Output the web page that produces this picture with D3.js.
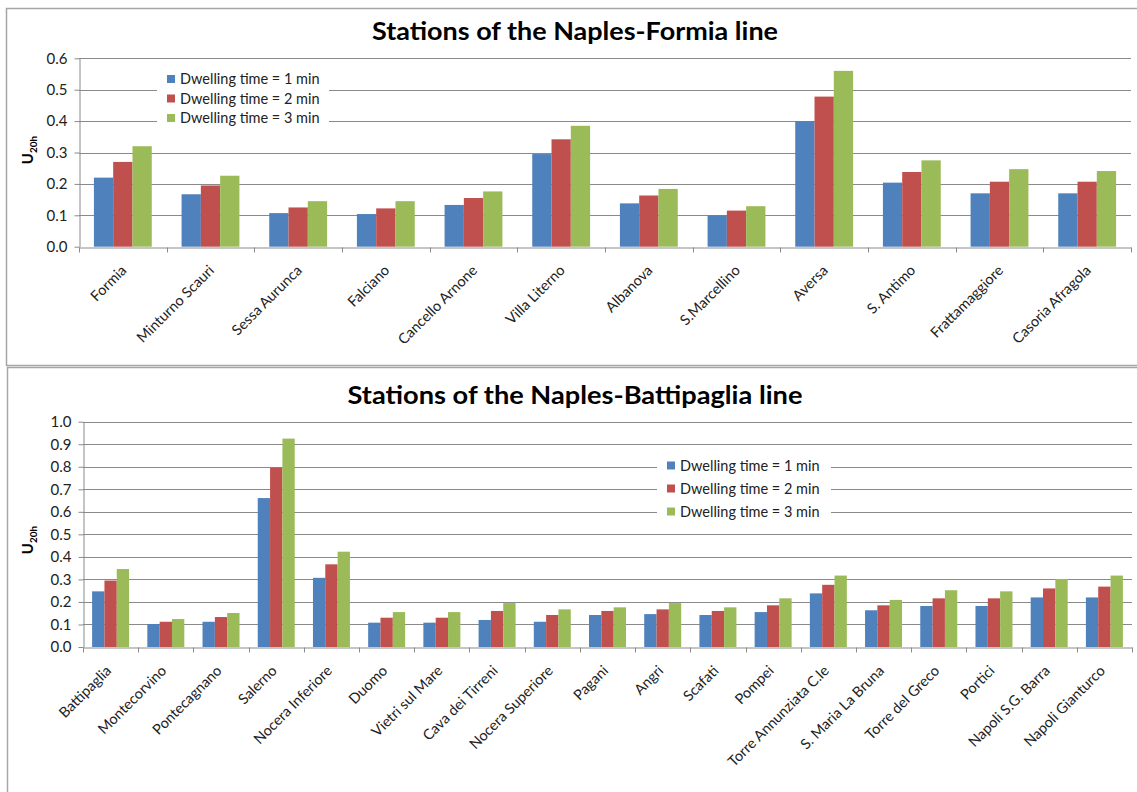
<!DOCTYPE html>
<html>
<head>
<meta charset="utf-8">
<script src="https://cdn.jsdelivr.net/npm/d3@7"></script>
<style>
  html, body { margin: 0; padding: 0; background: #fff; }
  svg { display: block; font-family: Lato, "Open Sans", "Noto Sans", sans-serif; }
</style>
</head>
<body>
<svg id="chart" width="1137" height="792"></svg>
<script>
// ---------- DATA ----------
const seriesNames = ["Dwelling time = 1 min", "Dwelling time = 2 min", "Dwelling time = 3 min"];
const seriesColors = ["#4F81BD", "#C0504D", "#9BBB59"];

const formiaStations = ["Formia", "Minturno Scauri", "Sessa Aurunca", "Falciano", "Cancello Arnone",
  "Villa Literno", "Albanova", "S.Marcellino", "Aversa", "S. Antimo", "Frattamaggiore", "Casoria Afragola"];
const formiaDwell1 = [0.220, 0.167, 0.107, 0.104, 0.133, 0.295, 0.138, 0.100, 0.400, 0.204, 0.170, 0.170];
const formiaDwell2 = [0.270, 0.195, 0.125, 0.122, 0.155, 0.342, 0.163, 0.115, 0.478, 0.238, 0.207, 0.207];
const formiaDwell3 = [0.320, 0.226, 0.145, 0.145, 0.176, 0.385, 0.184, 0.129, 0.560, 0.275, 0.247, 0.241];
const formiaTicks = [0.0, 0.1, 0.2, 0.3, 0.4, 0.5, 0.6];

const battStations = ["Battipaglia", "Montecorvino", "Pontecagnano", "Salerno", "Nocera Inferiore", "Duomo",
  "Vietri sul Mare", "Cava dei Tirreni", "Nocera Superiore", "Pagani", "Angri", "Scafati", "Pompei",
  "Torre Annunziata C.le", "S. Maria La Bruna", "Torre del Greco", "Portici", "Napoli S.G. Barra", "Napoli Gianturco"];
const battDwell1 = [0.247, 0.102, 0.112, 0.661, 0.307, 0.108, 0.108, 0.120, 0.112, 0.142, 0.146, 0.142, 0.155, 0.238, 0.163, 0.182, 0.182, 0.220, 0.220];
const battDwell2 = [0.295, 0.112, 0.133, 0.796, 0.367, 0.130, 0.130, 0.160, 0.142, 0.160, 0.167, 0.160, 0.185, 0.276, 0.185, 0.216, 0.216, 0.260, 0.268];
const battDwell3 = [0.346, 0.124, 0.151, 0.925, 0.423, 0.155, 0.155, 0.195, 0.167, 0.176, 0.195, 0.176, 0.216, 0.317, 0.209, 0.252, 0.247, 0.302, 0.317];
const battTicks = [0.0, 0.1, 0.2, 0.3, 0.4, 0.5, 0.6, 0.7, 0.8, 0.9, 1.0];

// ---------- DRAW ----------
const svg = d3.select("#chart");
const GRID = "#8a8a8a";

function panel(cfg) {
  // panel frame
  svg.append("rect")
    .attr("x", cfg.frame[0] + 0.5).attr("y", cfg.frame[1] + 0.5)
    .attr("width", cfg.frame[2]).attr("height", cfg.frame[3])
    .attr("fill", "#fff").attr("stroke", "#a6a6a6").attr("stroke-width", 1.5);

  const x = d3.scaleBand().domain(cfg.cats).range([cfg.left, cfg.right])
    .paddingInner(cfg.pad).paddingOuter(cfg.pad / 2);
  const xs = d3.scaleBand().domain(d3.range(seriesNames.length)).range([0, x.bandwidth()]);
  const y = d3.scaleLinear().domain(cfg.domain).range([cfg.bottom, cfg.top]);

  const g = svg.append("g");

  // gridlines
  g.append("g").selectAll("line").data(cfg.ticks.filter(t => t > 0)).join("line")
    .attr("x1", cfg.left).attr("x2", cfg.right)
    .attr("y1", d => Math.round(y(d)) + 0.5).attr("y2", d => Math.round(y(d)) + 0.5)
    .attr("stroke", GRID).attr("stroke-width", 1);

  // bars
  const series = cfg.values;
  const groups = g.append("g").selectAll("g").data(cfg.cats).join("g")
    .attr("transform", d => `translate(${x(d)},0)`);
  groups.selectAll("rect").data((d, i) => series.map((s, k) => ({ k, v: s[i] }))).join("rect")
    .attr("x", d => xs(d.k))
    .attr("width", xs.bandwidth())
    .attr("y", d => y(d.v))
    .attr("height", d => y(0) - y(d.v))
    .attr("fill", d => seriesColors[d.k]);

  // y axis
  const yAxis = d3.axisLeft(y).tickValues(cfg.ticks).tickFormat(d3.format(".1f"))
    .tickSizeInner(5).tickSizeOuter(0).tickPadding(7);
  const ya = g.append("g").attr("transform", `translate(${cfg.left + 0.5},0)`).call(yAxis);
  ya.select(".domain").attr("stroke", GRID);
  ya.selectAll(".tick line").attr("stroke", GRID);
  ya.selectAll(".tick text").attr("font-size", 15).attr("fill", "#222")
    .attr("font-family", "Lato, sans-serif");

  // x axis
  const xAxis = d3.axisBottom(x).tickSize(0).tickFormat("");
  const xa = g.append("g").attr("transform", `translate(0,${Math.round(cfg.bottom) + 0.5})`).call(xAxis);
  xa.select(".domain").attr("stroke", GRID);
  // category separator ticks
  xa.append("g").selectAll("line").data(d3.range(cfg.cats.length + 1)).join("line")
    .attr("x1", i => Math.round(cfg.left + i * x.step()) + 0.5)
    .attr("x2", i => Math.round(cfg.left + i * x.step()) + 0.5)
    .attr("y1", 0).attr("y2", 5).attr("stroke", GRID);
  // rotated labels
  g.append("g").selectAll("text").data(cfg.cats).join("text")
    .attr("transform", d => `translate(${x(d) + x.bandwidth() / 2 + cfg.lblDx},${cfg.bottom + cfg.lblDy}) rotate(-45)`)
    .attr("text-anchor", "end")
    .attr("dy", "0.35em")
    .attr("font-size", cfg.lblSize)
    .attr("fill", "#222")
    .text(d => d);

  // title
  svg.append("text").attr("x", cfg.titleX).attr("y", cfg.titleY)
    .attr("text-anchor", "middle").attr("font-weight", "bold").attr("font-size", 25)
    .attr("textLength", cfg.titleW).attr("lengthAdjust", "spacingAndGlyphs")
    .attr("fill", "#000").text(cfg.title);

  // y axis title U20h
  const yt = svg.append("text")
    .attr("transform", `translate(${cfg.ytX},${cfg.ytY}) rotate(-90)`)
    .attr("text-anchor", "middle").attr("font-weight", "bold").attr("font-size", 15).attr("fill", "#000");
  yt.append("tspan").text("U");
  yt.append("tspan").attr("font-size", 10).attr("dy", 4).text("20h");

  // legend
  const lg = svg.append("g").attr("transform", `translate(${cfg.legend[0]},${cfg.legend[1]})`);
  lg.append("rect").attr("x", 0).attr("y", 0).attr("width", cfg.legend[2]).attr("height", cfg.legend[3]).attr("fill", "#fff");
  const items = lg.selectAll("g").data(seriesNames).join("g")
    .attr("transform", (d, i) => `translate(10,${cfg.legRow0 + i * cfg.legGap})`);
  items.append("rect").attr("x", 0).attr("y", -4).attr("width", 8).attr("height", 8)
    .attr("fill", (d, i) => seriesColors[i]);
  items.append("text").attr("x", 13).attr("dy", "0.35em").attr("font-size", 14.5).attr("fill", "#222").text(d => d);
}

panel({
  frame: [6, 8, 1140, 357],
  cats: formiaStations,
  values: [formiaDwell1, formiaDwell2, formiaDwell3],
  ticks: formiaTicks, domain: [0, 0.6],
  left: 79, right: 1131, top: 58.3, bottom: 246.7, pad: 0.34,
  lblDx: 1, lblDy: 21, lblSize: 14.5,
  title: "Stations of the Naples-Formia line", titleX: 575, titleY: 40, titleW: 406,
  ytX: 33, ytY: 150,
  legend: [157, 69, 172, 58], legRow0: 10, legGap: 19.5
});

panel({
  frame: [7, 367, 1140, 430],
  cats: battStations,
  values: [battDwell1, battDwell2, battDwell3],
  ticks: battTicks, domain: [0, 1],
  left: 83, right: 1132, top: 421.7, bottom: 647, pad: 0.33,
  lblDx: -2, lblDy: 21, lblSize: 14.5,
  title: "Stations of the Naples-Battipaglia line", titleX: 575, titleY: 404, titleW: 455,
  ytX: 33, ytY: 540,
  legend: [657, 454, 174, 70], legRow0: 11.5, legGap: 23
});
</script>
</body>
</html>
